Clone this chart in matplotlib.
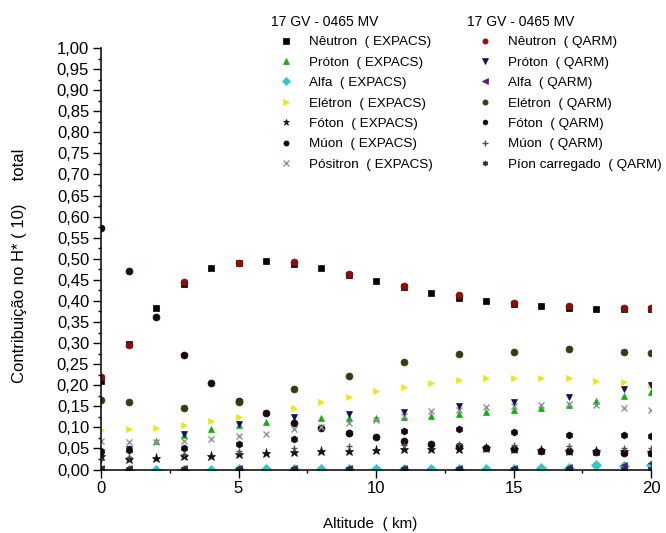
import numpy as np
import matplotlib
matplotlib.use("Agg")
import matplotlib.pyplot as plt
from matplotlib.ticker import MultipleLocator, FuncFormatter

plt.rcParams['font.family'] = ['Liberation Sans', 'DejaVu Sans']

# altitudes (km)
alt_expacs = list(range(0, 21))
alt_qarm = [0, 1, 3, 5, 7, 9, 11, 13, 15, 17, 19, 20]

# EXPACS contributions
neutron_expacs = [0.211, 0.297, 0.382, 0.440, 0.478, 0.490, 0.495, 0.487, 0.477, 0.462, 0.447,
                  0.432, 0.419, 0.407, 0.399, 0.392, 0.387, 0.383, 0.380, 0.380, 0.380]
proton_expacs = [0.040, 0.052, 0.067, 0.082, 0.097, 0.105, 0.113, 0.118, 0.121, 0.121, 0.123,
                 0.125, 0.127, 0.131, 0.137, 0.141, 0.147, 0.153, 0.163, 0.175, 0.185]
alpha_expacs = [0.000, 0.000, 0.000, 0.000, 0.000, 0.001, 0.001, 0.001, 0.001, 0.001, 0.001,
                0.001, 0.001, 0.002, 0.002, 0.002, 0.004, 0.004, 0.010, 0.008, 0.010]
electron_expacs = [0.093, 0.095, 0.099, 0.105, 0.115, 0.124, 0.134, 0.147, 0.161, 0.173, 0.186,
                   0.195, 0.206, 0.213, 0.217, 0.217, 0.218, 0.217, 0.211, 0.207, 0.200]
photon_expacs = [0.031, 0.026, 0.028, 0.031, 0.033, 0.036, 0.038, 0.041, 0.044, 0.045, 0.047,
                 0.048, 0.049, 0.049, 0.050, 0.048, 0.046, 0.045, 0.043, 0.043, 0.042]
muon_expacs = [0.573, 0.470, 0.361, 0.271, 0.206, 0.163, 0.133, 0.111, 0.098, 0.087, 0.076,
               0.068, 0.061, 0.056, 0.052, 0.048, 0.045, 0.043, 0.041, 0.039, 0.038]
positron_expacs = [0.067, 0.065, 0.066, 0.067, 0.073, 0.079, 0.085, 0.095, 0.100, 0.110, 0.117,
                   0.126, 0.139, 0.140, 0.149, 0.150, 0.152, 0.155, 0.153, 0.147, 0.142]

# QARM contributions
neutron_qarm = [0.219, 0.295, 0.445, 0.490, 0.492, 0.464, 0.435, 0.415, 0.395, 0.389, 0.383, 0.383]
proton_qarm = [0.035, 0.048, 0.085, 0.107, 0.125, 0.131, 0.137, 0.151, 0.161, 0.173, 0.190, 0.200]
alpha_qarm = [0.003, 0.003, 0.004, 0.004, 0.004, 0.004, 0.004, 0.004, 0.004, 0.005, 0.010, 0.015]
electron_qarm = [0.165, 0.161, 0.145, 0.160, 0.191, 0.221, 0.254, 0.274, 0.279, 0.287, 0.279, 0.277]
photon_qarm = [0.045, 0.047, 0.051, 0.061, 0.073, 0.086, 0.091, 0.095, 0.088, 0.083, 0.081, 0.079]
muon_qarm = [0.022, 0.030, 0.036, 0.044, 0.050, 0.055, 0.058, 0.060, 0.059, 0.055, 0.052, 0.050]
pion_qarm = [0.001, 0.001, 0.001, 0.001, 0.001, 0.001, 0.002, 0.002, 0.002, 0.002, 0.002, 0.002]

header = "17 GV - 0465 MV"

fig = plt.figure(figsize=(6.66, 5.33), dpi=100)
ax = fig.add_axes([101/666, 1 - 469.5/533, 550/666, 421.5/533])

ms = 5
expacs = [
    (neutron_expacs, 's', 'black', "Nêutron  ( EXPACS)"),
    (proton_expacs, '^', '#10b010', "Próton  ( EXPACS)"),
    (alpha_expacs, 'D', '#30c8c8', "Alfa  ( EXPACS)"),
    (electron_expacs, '>', '#e8e818', "Elétron  ( EXPACS)"),
    (photon_expacs, '*', '#101020', "Fóton  ( EXPACS)"),
    (muon_expacs, 'o', '#1a0810', "Múon  ( EXPACS)"),
    (positron_expacs, 'x', '#909098', "Pósitron  ( EXPACS)"),
]
qarm = [
    (neutron_qarm, 'o', '#8a0e0e', "Nêutron  ( QARM)"),
    (proton_qarm, 'v', '#121258', "Próton  ( QARM)"),
    (alpha_qarm, '<', '#5a1480', "Alfa  ( QARM)"),
    (electron_qarm, 'o', '#3a3a12', "Elétron  ( QARM)"),
    (photon_qarm, 'h', '#140810', "Fóton  ( QARM)"),
    (muon_qarm, '+', '#505050', "Múon  ( QARM)"),
    (pion_qarm, (6, 2, 0), '#303030', "Píon carregado  ( QARM)"),
]

h1 = []
for vals, mk, col, lab in expacs:
    size = ms + 1.5 if mk == '*' else ms
    ln, = ax.plot(alt_expacs, vals, linestyle='none', marker=mk, color=col, ms=size,
                  mew=1.0 if mk == 'x' else 0.5, label=lab)
    h1.append(ln)
h2 = []
for vals, mk, col, lab in qarm:
    ln, = ax.plot(alt_qarm, vals, linestyle='none', marker=mk, color=col, ms=ms,
                  mew=1.0 if mk in ('+', (6, 2, 0)) else 0.5, label=lab)
    h2.append(ln)

ax.set_xlim(0, 20)
ax.set_ylim(0, 1.0)
for s in ['top', 'right']:
    ax.spines[s].set_visible(False)
for s in ['left', 'bottom']:
    ax.spines[s].set_linewidth(1.1)

ax.xaxis.set_major_locator(MultipleLocator(5))
ax.xaxis.set_minor_locator(MultipleLocator(2.5))
ax.yaxis.set_major_locator(MultipleLocator(0.05))
ax.yaxis.set_minor_locator(MultipleLocator(0.025))
ax.yaxis.set_major_formatter(FuncFormatter(lambda v, p: f"{v:.2f}".replace('.', ',')))
ax.tick_params(axis='both', which='major', direction='out', length=5.5, width=1.0)
ax.tick_params(axis='both', which='minor', direction='out', length=2.3, width=1.0)
ax.tick_params(axis='x', labelsize=12, pad=3)
ax.tick_params(axis='y', labelsize=12, pad=3)

ax.set_xlabel("Altitude  ( km)", fontsize=11)
ax.xaxis.set_label_coords(0.489, -0.113)
ax.set_ylabel("Contribuição no H* ( 10)     total", fontsize=12)
ax.yaxis.set_label_coords(-0.135, 0.484)

fig.text(271/666, 1 - 22/533, header, fontsize=10, va='center', ha='left')
fig.text(467/666, 1 - 22/533, header, fontsize=10, va='center', ha='left')

leg_kw = dict(frameon=False, fontsize=9.7, markerscale=0.75, numpoints=1, handlelength=1.0,
              handletextpad=1.2, labelspacing=0.59, borderpad=0, borderaxespad=0,
              loc='upper left', bbox_transform=fig.transFigure)
leg1 = ax.legend(handles=h1, bbox_to_anchor=(279/666, 1 - 36/533), **leg_kw)
ax.add_artist(leg1)
leg2 = ax.legend(handles=h2, bbox_to_anchor=(478/666, 1 - 36/533), **leg_kw)

fig.savefig("out.png", dpi=100)
